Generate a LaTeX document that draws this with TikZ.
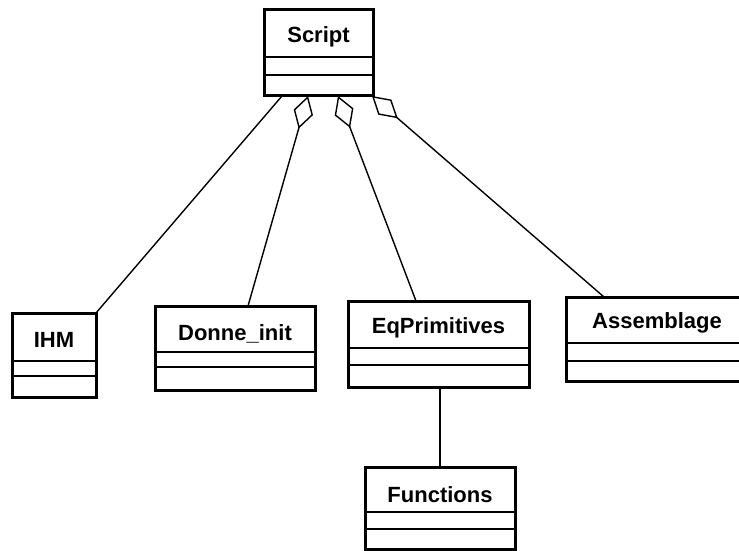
\documentclass[tikz,border=0pt]{standalone}
\usepackage{fontspec}
\setmainfont{Liberation Sans}
\usetikzlibrary{arrows.meta,fit}
\newcommand\umlclass[9]{%
  \path (#2,#3) coordinate (#1nw) (#4,#5) coordinate (#1se);
  \node[classbox, fit=(#1nw)(#1se)] (#1) {};
  \draw[divider] (#2,#6) -- (#4,#6);
  \draw[divider] (#2,#7) -- (#4,#7);
  \node[title] (#1t) at ({(#2+#4)/2},#9) {#8};
}
\begin{document}
\begin{tikzpicture}[x=1pt,y=-1pt,
  classbox/.style={draw, line width=3pt, inner sep=0pt, outer sep=0pt},
  divider/.style={line width=1.5pt},
  title/.style={font=\fontsize{22}{24}\selectfont\bfseries, anchor=base, inner sep=0pt},
  link/.style={line width=1.4pt},
  agg/.style={link, {Diamond[open,length=34pt,width=20pt,line width=1.4pt]}-}]
\fill[white] (0,0) rectangle (739,551);
\useasboundingbox (0,0) rectangle (739,551);
\umlclass{script}{264}{10}{373}{95}{57}{75}{Script}{43}
\umlclass{ihm}{12}{313}{96}{397}{361}{376}{IHM}{347}
\umlclass{donne}{155}{306}{315}{390}{352}{367}{Donne\_init}{340}
\umlclass{eqp}{348}{301}{529}{387}{348}{365}{EqPrimitives}{333}
\umlclass{ass}{566}{297}{748}{381}{343}{361}{Assemblage}{328}
\umlclass{fun}{365}{467}{515}{549}{512}{529}{Functions}{502}
\coordinate (a1) at (282,96);
\coordinate (a2) at (308,96);
\coordinate (a3) at (338,96);
\coordinate (a4) at (372,96);
\coordinate (b2) at (248,306);
\coordinate (b3) at (416,301);
\coordinate (b4) at (604,297);
\draw[link] (a1) -- (ihm.north east);
\draw[agg] (a2) -- (b2);
\draw[agg] (a3) -- (b3);
\draw[agg] (a4) -- (b4);
\draw[link] (eqp.south -| 440,0) -- (fun.north -| 440,0);
\end{tikzpicture}
\end{document}
